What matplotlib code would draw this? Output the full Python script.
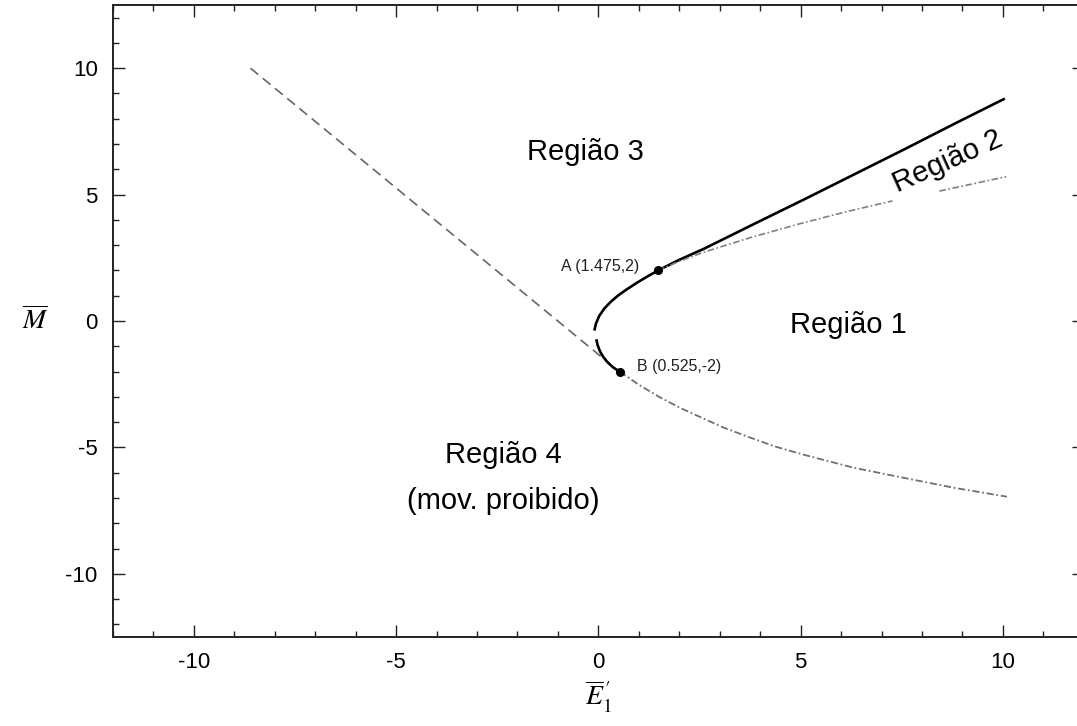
import numpy as np
import matplotlib
matplotlib.use("Agg")
import matplotlib.pyplot as plt
from matplotlib.ticker import MultipleLocator

plt.rcParams["font.family"] = ["Liberation Sans", "DejaVu Sans"]
plt.rcParams["mathtext.fontset"] = "stix"
plt.rcParams["axes.unicode_minus"] = False

# Boundary curves of the (E1', M) plane
upper_E = [-0.10, -0.06, 0.02, 0.15, 0.30, 0.48, 0.70, 0.97, 1.20, 1.475,
           2.0, 2.6, 3.8, 5.1, 6.3, 7.55, 8.8, 10.05]
upper_M = [-0.38, -0.10, 0.20, 0.50, 0.75, 1.00, 1.25, 1.53, 1.75, 2.00,
           2.42, 2.85, 3.80, 4.82, 5.78, 6.78, 7.80, 8.80]

vertex_low_E = [-0.05, -0.02, 0.04, 0.12, 0.22, 0.36, 0.525]
vertex_low_M = [-0.72, -0.95, -1.20, -1.42, -1.62, -1.83, -2.00]

lower_E = [0.525, 1.0, 1.5, 2.0, 2.6, 3.1, 3.8, 4.4, 5.1, 6.3, 7.6, 8.8, 10.1]
lower_M = [-2.00, -2.52, -3.00, -3.42, -3.86, -4.22, -4.64, -4.98, -5.30, -5.80, -6.22, -6.60, -6.95]

mid_a_E = [1.475, 2.0, 2.6, 3.8, 5.1, 6.2, 7.27]
mid_a_M = [2.00, 2.36, 2.72, 3.32, 3.90, 4.35, 4.75]
mid_b_E = [8.43, 10.08]
mid_b_M = [5.14, 5.71]

line_E = [-8.6, 0.25]
line_M = [10.0, -1.65]

point_names = ["A", "B"]
point_E = [1.475, 0.525]
point_M = [2.0, -2.0]

fig = plt.figure(figsize=(10.77, 7.26), dpi=100)
ax = fig.add_axes([0.1049, 0.1226, 0.9014, 0.8705])

gray_dd = (0, (4, 1.5, 1, 1.5))
ax.plot(line_E, line_M, color="#666666", lw=1.2, dashes=(6, 3.5))
ax.plot(upper_E, upper_M, color="black", lw=1.9, solid_capstyle="butt",
        solid_joinstyle="round")
ax.plot(vertex_low_E, vertex_low_M, color="black", lw=1.9, solid_capstyle="butt",
        solid_joinstyle="round")
ax.plot(lower_E, lower_M, color="#707070", lw=1.3, linestyle=gray_dd)
ax.plot(mid_a_E, mid_a_M, color="#808080", lw=1.2, linestyle=gray_dd)
ax.plot(mid_b_E, mid_b_M, color="#808080", lw=1.2, linestyle=gray_dd)
ax.plot(point_E, point_M, "o", color="black", ms=5.5)

ax.text(1.0, 2.15, f"{point_names[0]} ({point_E[0]},{point_M[0]:g})",
        fontsize=11.5, ha="right", va="center", color="#222222")
ax.text(0.95, -1.8, f"{point_names[1]} ({point_E[1]},{point_M[1]:g})",
        fontsize=11.5, ha="left", va="center", color="#222222")

region_kw = dict(fontsize=21, ha="center", va="center", color="black")
ax.text(-0.32, 6.7, "Região 3", **region_kw)
ax.text(6.18, -0.16, "Região 1", **region_kw)
ax.text(-2.35, -5.3, "Região 4", **region_kw)
ax.text(-2.35, -7.14, "(mov. proibido)", **region_kw)
ax.text(8.63, 6.3, "Região 2", rotation=24, rotation_mode="anchor", **region_kw)

ax.set_xlim(-12, 12)
ax.set_ylim(-12.5, 12.5)
ax.xaxis.set_major_locator(MultipleLocator(5))
ax.xaxis.set_minor_locator(MultipleLocator(1))
ax.yaxis.set_major_locator(MultipleLocator(5))
ax.yaxis.set_minor_locator(MultipleLocator(1))
ax.tick_params(which="both", direction="in", top=True, right=True, width=1.0, color="#222222")
ax.tick_params(which="major", length=8.6, labelsize=16, pad=11)
ax.tick_params(which="minor", length=4)
for s in ax.spines.values():
    s.set_linewidth(1.4)
    s.set_color("#222222")

ax.set_xlabel(r"$\overline{E}_1^{\,\prime}$", fontsize=20, labelpad=4)
ax.set_ylabel(r"$\overline{M}$", fontsize=20, rotation=0, labelpad=22, va="center")

fig.savefig("out.png", dpi=100)
